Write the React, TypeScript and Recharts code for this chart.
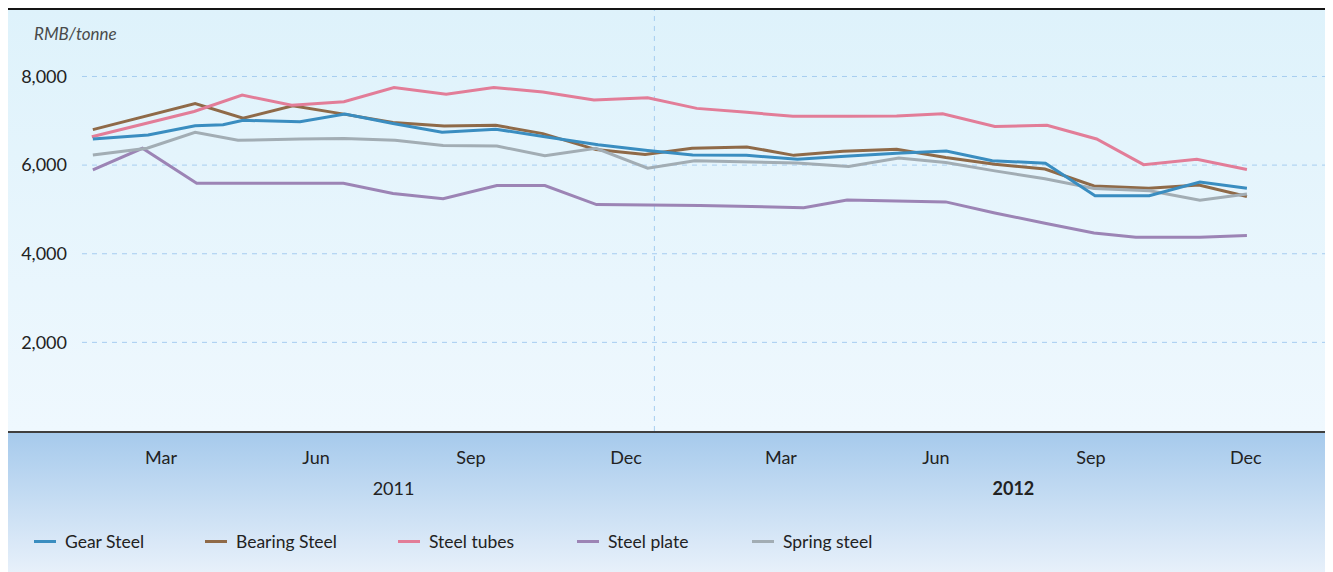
import {
  CartesianGrid,
  Label,
  Legend,
  Line,
  LineChart,
  ReferenceLine,
  XAxis,
  YAxis,
} from "recharts";

const FONT = "Lato, 'Open Sans', sans-serif";

// x is months counted from Jan 2011 (0 = Jan 2011, 23 = Dec 2012)
const monthNames = ["Jan", "Feb", "Mar", "Apr", "May", "Jun", "Jul", "Aug", "Sep", "Oct", "Nov", "Dec"];
const monthTicks = [2, 5, 8, 11, 14, 17, 20, 23];
const yearTicks = [6.5, 18.5];
const yearLabels = ["2011", "2012"];
const valueTicks = [2000, 4000, 6000, 8000];

const gearX = [0.68, 1.75, 2.66, 3.2, 3.59, 4.69, 5.56, 6.49, 7.44, 8.48, 9.43, 10.46, 11.42, 12.29, 13.33, 14.32, 15.24, 16.24, 17.2, 18.09, 19.12, 20.08, 21.13, 22.11, 23.02];
const gearY = [6590, 6680, 6890, 6910, 7010, 6980, 7150, 6940, 6740, 6810, 6640, 6460, 6330, 6230, 6220, 6130, 6200, 6270, 6320, 6100, 6040, 5310, 5310, 5620, 5480];

const bearingX = [0.68, 2.66, 3.59, 4.55, 5.54, 6.49, 7.48, 8.48, 9.39, 10.42, 11.37, 12.28, 13.34, 14.25, 15.2, 16.24, 17.19, 18.14, 19.11, 20.06, 21.12, 22.09, 23.02];
const bearingY = [6800, 7390, 7060, 7340, 7150, 6960, 6880, 6900, 6710, 6350, 6240, 6380, 6410, 6220, 6310, 6360, 6170, 6020, 5910, 5530, 5480, 5550, 5290];

const tubesX = [0.66, 2.64, 3.57, 4.53, 5.54, 6.51, 7.52, 8.44, 9.39, 10.38, 11.42, 12.37, 13.34, 14.23, 15.28, 16.24, 17.13, 18.14, 19.15, 20.11, 21.02, 22.05, 23.02];
const tubesY = [6640, 7210, 7580, 7350, 7430, 7750, 7600, 7750, 7650, 7470, 7520, 7280, 7190, 7100, 7100, 7110, 7160, 6870, 6900, 6590, 6010, 6130, 5900];

const plateX = [0.68, 1.64, 2.69, 5.53, 6.49, 7.46, 8.5, 9.43, 10.43, 12.43, 14.44, 15.28, 17.19, 18.14, 19.11, 20.06, 20.87, 22.11, 23.02];
const plateY = [5890, 6380, 5590, 5590, 5360, 5240, 5540, 5540, 5110, 5090, 5040, 5210, 5170, 4920, 4690, 4470, 4370, 4370, 4410];

const springX = [0.68, 1.73, 2.66, 3.49, 4.69, 5.54, 6.53, 7.46, 8.5, 9.43, 10.42, 11.42, 12.33, 14.31, 15.31, 16.28, 17.19, 18.14, 19.11, 20.06, 21.14, 22.11, 23.02];
const springY = [6230, 6380, 6740, 6560, 6590, 6600, 6560, 6440, 6430, 6210, 6380, 5930, 6100, 6050, 5970, 6160, 6060, 5870, 5690, 5470, 5420, 5210, 5350];

const toPoints = (xs: number[], ys: number[]) => xs.map((x, i) => ({ x, v: ys[i] }));

const series = [
  { name: "Gear Steel", color: "#3a8dc0", data: toPoints(gearX, gearY) },
  { name: "Bearing Steel", color: "#8f6a48", data: toPoints(bearingX, bearingY) },
  { name: "Steel tubes", color: "#e27d98", data: toPoints(tubesX, tubesY) },
  { name: "Steel plate", color: "#9c84b5", data: toPoints(plateX, plateY) },
  { name: "Spring steel", color: "#a2adb4", data: toPoints(springX, springY) },
];
// which line ends up on top
const drawOrder = ["Bearing Steel", "Steel tubes", "Steel plate", "Spring steel", "Gear Steel"];
// legend item widths so the swatches line up with the original
const legendWidths = [171, 193, 179, 175, 140];

function MonthTick({ x, y, payload }: any) {
  return (
    <text x={x} y={y} dy="0.71em" textAnchor="middle" fontSize={18} fill="#222" fontFamily={FONT}>
      {monthNames[payload.value % 12]}
    </text>
  );
}

function YearTick({ x, y, payload }: any) {
  const i = yearTicks.indexOf(payload.value);
  return (
    <text
      x={x}
      y={y}
      dy="0.71em"
      textAnchor="middle"
      fontSize={18}
      fontWeight={i === 1 ? 700 : 400}
      fill="#222"
      fontFamily={FONT}
    >
      {yearLabels[i]}
    </text>
  );
}

function LegendRow() {
  return (
    <div
      style={{
        display: "flex",
        height: 71,
        boxSizing: "border-box",
        paddingTop: 30,
        fontFamily: FONT,
        fontSize: 17.5,
        lineHeight: "18px",
        color: "#222",
      }}
    >
      {series.map((s, i) => (
        <div key={s.name} style={{ display: "flex", alignItems: "center", width: legendWidths[i], flex: "none" }}>
          <span style={{ display: "inline-block", width: 22, height: 3, background: s.color, marginRight: 9 }} />
          {s.name}
        </div>
      ))}
    </div>
  );
}

export default function App() {
  return (
    <>
      <style>{"html{overflow:hidden}"}</style>
      <div
        style={{
          width: 1322,
          height: 564,
          fontFamily: FONT,
          background:
            "linear-gradient(to bottom, #151515 0px, #151515 1.5px, #def2fb 1.5px, #eff8fe 423px, #3f3f3f 423px, #3f3f3f 425px, #a6caec 425px, #e7f0fa 564px)",
        }}
      >
        <LineChart width={1322} height={564} margin={{ top: 2, right: 3, left: 0, bottom: 10 }}>
          <CartesianGrid
            vertical={false}
            horizontalValues={valueTicks}
            stroke="#a6cdf0"
            strokeDasharray="5 5"
          />
          <XAxis
            dataKey="x"
            type="number"
            domain={[0.47, 24.57]}
            allowDataOverflow
            ticks={monthTicks}
            interval={0}
            axisLine={false}
            tickLine={false}
            tickSize={0}
            tickMargin={20}
            height={30}
            tick={MonthTick}
          />
          <XAxis
            xAxisId="year"
            dataKey="x"
            type="number"
            domain={[0.47, 24.57]}
            allowDataOverflow
            ticks={yearTicks}
            interval={0}
            axisLine={false}
            tickLine={false}
            tickSize={0}
            tickMargin={21}
            height={30}
            tick={YearTick}
          />
          <YAxis
            type="number"
            domain={[0, 9500]}
            ticks={valueTicks}
            width={74}
            axisLine={false}
            tickLine={false}
            tickSize={0}
            tickMargin={15}
            tick={{ fontSize: 18, fill: "#222", fontFamily: FONT }}
            tickFormatter={(v: number) => v.toLocaleString("en-US")}
          >
            <Label
              content={() => (
                <text x={26} y={32} fontSize={17} fontStyle="italic" fill="#4a4a4a" fontFamily={FONT}>
                  RMB/tonne
                </text>
              )}
            />
          </YAxis>
          <ReferenceLine x={11.55} stroke="#a6cdf0" strokeDasharray="5 5" />
          {drawOrder.map((name) => {
            const s = series.find((d) => d.name === name)!;
            return (
              <Line
                key={s.name}
                data={s.data}
                dataKey="v"
                name={s.name}
                type="linear"
                stroke={s.color}
                strokeWidth={3}
                dot={false}
                activeDot={false}
                isAnimationActive={false}
              />
            );
          })}
          <Legend
            verticalAlign="bottom"
            align="left"
            content={() => <LegendRow />}
            wrapperStyle={{ left: 26, bottom: 10, width: 1200 }}
          />
        </LineChart>
      </div>
    </>
  );
}
